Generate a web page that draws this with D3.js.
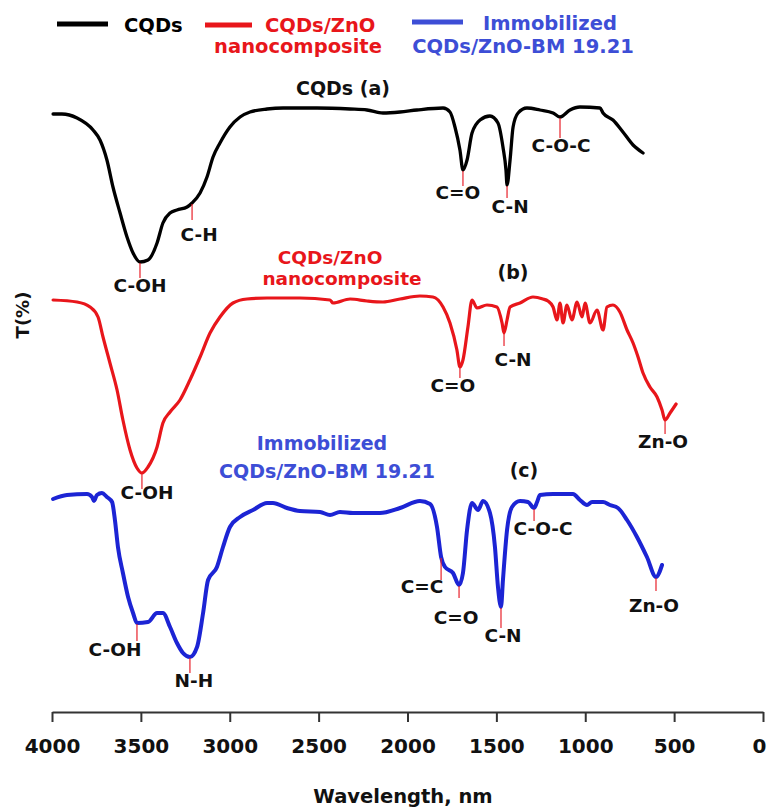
<!DOCTYPE html>
<html>
<head>
<meta charset="utf-8">
<script src="https://cdn.jsdelivr.net/npm/d3@7"></script>
<style>
  html, body { margin: 0; padding: 0; background: #fff; }
  svg { display: block; font-family: "DejaVu Sans", sans-serif; font-weight: bold; }
</style>
</head>
<body>
<svg id="chart" width="768" height="810"></svg>
<script>
// Wavenumber (cm-1) and stacked transmittance (offset, arbitrary units) for each spectrum
const cqdsWn = [3994, 3944, 3859, 3769, 3730, 3691, 3657, 3617, 3578, 3544, 3505, 3460, 3409, 3376, 3336, 3297, 3240, 3212, 3167, 3128, 3094, 3055, 2999, 2942, 2886, 2790, 2700, 2509, 2323, 2228, 2138, 2042, 1947, 1800, 1761, 1733, 1705, 1688, 1665, 1637, 1592, 1536, 1491, 1463, 1446, 1440, 1423, 1406, 1378, 1328, 1255, 1181, 1142, 1086, 1030, 917, 900, 844, 788, 731, 675];
const cqdsT  = [119.6, 119.6, 118.8, 116.4, 114.4, 110.4, 105.0, 99.8, 95.0, 91.8, 90.0, 90.4, 93.8, 97.8, 99.8, 100.4, 101.0, 101.8, 103.8, 107.0, 111.0, 113.8, 117.0, 119.0, 120.0, 120.6, 120.8, 120.8, 120.6, 120.4, 119.8, 120.0, 120.4, 120.8, 120.0, 117.0, 112.4, 108.4, 110.4, 115.8, 118.4, 119.2, 117.8, 113.0, 108.4, 105.4, 110.4, 117.0, 119.8, 120.8, 120.4, 119.8, 119.0, 120.4, 121.0, 120.8, 119.8, 118.4, 116.0, 113.4, 111.8];

const zncWn = [3994, 3859, 3786, 3741, 3713, 3674, 3634, 3601, 3561, 3522, 3494, 3460, 3409, 3376, 3336, 3280, 3224, 3167, 3111, 3055, 2982, 2903, 2790, 2605, 2436, 2419, 2323, 2228, 2138, 2042, 1930, 1857, 1800, 1761, 1722, 1705, 1688, 1660, 1637, 1609, 1553, 1497, 1468, 1457, 1440, 1423, 1367, 1294, 1238, 1210, 1181, 1159, 1142, 1125, 1103, 1075, 1046, 1018, 1001, 973, 934, 900, 878, 844, 805, 765, 731, 703, 675, 636, 596, 568, 551, 523, 489];
const zncT  = [82.4, 82.0, 81.0, 79.0, 75.0, 69.8, 64.4, 58.4, 52.4, 48.8, 47.8, 49.0, 53.0, 57.8, 60.0, 62.4, 66.4, 71.0, 75.8, 79.0, 81.8, 82.6, 82.8, 82.8, 82.4, 81.8, 82.6, 82.2, 82.0, 82.6, 83.2, 83.0, 81.0, 77.8, 72.4, 69.0, 70.4, 77.0, 82.4, 80.8, 81.4, 81.0, 77.8, 75.8, 78.4, 81.0, 81.8, 83.0, 82.6, 82.2, 81.0, 78.4, 81.8, 77.8, 81.4, 78.4, 82.0, 79.0, 81.8, 77.8, 80.4, 76.4, 81.0, 81.4, 80.0, 76.4, 73.8, 71.0, 67.8, 65.0, 63.0, 60.4, 58.4, 59.8, 61.6];

const bmWn = [3994, 3916, 3803, 3775, 3764, 3747, 3719, 3691, 3662, 3646, 3629, 3601, 3572, 3544, 3522, 3460, 3409, 3376, 3336, 3297, 3263, 3224, 3184, 3150, 3122, 3072, 3038, 2999, 2942, 2869, 2790, 2757, 2678, 2605, 2492, 2436, 2380, 2307, 2155, 2042, 1930, 1873, 1834, 1811, 1789, 1744, 1710, 1688, 1665, 1637, 1603, 1575, 1536, 1508, 1491, 1474, 1463, 1440, 1412, 1367, 1322, 1288, 1271, 1255, 1181, 1069, 1030, 990, 962, 900, 861, 816, 765, 709, 653, 602, 568];
const bmT  = [42.6, 43.4, 43.6, 43.0, 42.2, 43.4, 43.8, 43.0, 42.0, 38.4, 33.0, 27.8, 23.0, 19.8, 17.8, 18.0, 19.8, 19.8, 17.0, 13.8, 11.8, 11.0, 13.0, 19.8, 26.4, 29.0, 33.0, 37.0, 39.0, 40.4, 41.8, 41.8, 40.8, 40.2, 40.0, 39.4, 40.0, 39.8, 39.8, 40.8, 42.2, 41.6, 37.0, 31.0, 29.0, 27.8, 25.4, 27.8, 36.4, 41.8, 40.4, 42.2, 39.8, 33.0, 25.0, 21.0, 26.4, 36.4, 41.0, 42.2, 42.0, 40.8, 42.0, 43.4, 43.6, 43.6, 42.4, 41.4, 42.0, 42.0, 41.4, 40.8, 38.4, 35.0, 31.0, 27.0, 29.4];

const xMajor = [4000, 3500, 3000, 2500, 2000, 1500, 1000, 500, 0];
const xMinor = [3750, 3250, 2750, 2250, 1750, 1250, 750, 250];

const seriesColors = ['#000000', '#e8161b', '#1c24d4'];

// band assignments: [wavenumber, label]
const peaksA = [[3505, 'C-OH'], [3212, 'C-H'], [1688, 'C=O'], [1440, 'C-N'], [1142, 'C-O-C']];
const peaksB = [[3494, 'C-OH'], [1705, 'C=O'], [1457, 'C-N'], [551, 'Zn-O']];
const peaksC = [[3522, 'C-OH'], [3224, 'N-H'], [1811, 'C=C'], [1710, 'C=O'], [1474, 'C-N'], [1288, 'C-O-C'], [602, 'Zn-O']];

const svg = d3.select('#chart');

const x = d3.scaleLinear().domain([4000, 0]).range([52, 763]);
const y = d3.scaleLinear().domain([0, 130]).range([712, 62]);

const line = d3.line()
  .x(d => x(d[0]))
  .y(d => y(d[1]))
  .curve(d3.curveMonotoneX);

const series = [
  { wn: cqdsWn, t: cqdsT, color: seriesColors[0], width: 3.3, peaks: peaksA },
  { wn: zncWn,  t: zncT,  color: seriesColors[1], width: 3.2, peaks: peaksB },
  { wn: bmWn,   t: bmT,   color: seriesColors[2], width: 4,   peaks: peaksC },
];

// label placement per peak: [marker length, label dx, gap under marker]
const peakLayout = [
  [[15, 0, 7], [16, 7, 14], [15, -5, 6], [12, 3, 8], [20, 1, 7]],
  [[15, 5, 3], [10, -7, 7], [12, 9, 13], [13, -2, 7]],
  [[17, -22, 8], [15, 4, 7], [22, -19, 6], [12, -3, 19], [20, 2, 7], [12, 9, 7], [13, -2, 14]],
];

function tAt(s, wn) {
  const i = s.wn.indexOf(wn);
  if (i >= 0) return s.t[i];
  const j = s.wn.findIndex(v => v < wn);
  const k = j - 1;
  const f = (s.wn[k] - wn) / (s.wn[k] - s.wn[j]);
  return s.t[k] + f * (s.t[j] - s.t[k]);
}

// ── Spectra ─────────────────────────────────────────────────────────────
series.forEach((s, si) => {
  svg.append('path')
    .datum(d3.zip(s.wn, s.t))
    .attr('fill', 'none')
    .attr('stroke', s.color)
    .attr('stroke-width', s.width)
    .attr('stroke-linejoin', 'round')
    .attr('stroke-linecap', 'round')
    .attr('d', line);

  s.peaks.forEach(([wn, label], pi) => {
    const [len, dx, gap] = peakLayout[si][pi];
    const px = x(wn);
    const top = y(tAt(s, wn)) + 1;
    svg.append('line')
      .attr('x1', px).attr('x2', px)
      .attr('y1', top).attr('y2', top + len)
      .attr('stroke', '#e8202a').attr('stroke-width', 1.2);
    svg.append('text')
      .attr('x', px + dx).attr('y', top + len + gap)
      .attr('dy', '0.36em')
      .attr('text-anchor', 'middle')
      .attr('font-size', '18.5px')
      .attr('fill', '#111')
      .text(label);
  });
});

// ── Panel captions ─────────────────────────────────────────────────────
function caption(txt, cx, cy, color, size) {
  svg.append('text')
    .attr('x', cx).attr('y', cy).attr('dy', '0.36em')
    .attr('text-anchor', 'middle')
    .attr('font-size', size || '19px')
    .attr('fill', color)
    .text(txt);
}
caption('CQDs (a)', 343, 88, '#111');
caption('CQDs/ZnO', 330, 257, seriesColors[1], '18.5px');
caption('nanocomposite', 342, 278, seriesColors[1], '18.5px');
caption('(b)', 513, 272, '#111');
caption('Immobilized', 322, 443, '#3d4ed6');
caption('CQDs/ZnO-BM 19.21', 327, 471, '#3d4ed6');
caption('(c)', 524, 470, '#111');

// ── Legend ──────────────────────────────────────────────────────────────
const lg = svg.append('g').attr('font-size', '19.5px');
lg.append('line').attr('x1', 57).attr('x2', 108).attr('y1', 24).attr('y2', 24)
  .attr('stroke', seriesColors[0]).attr('stroke-width', 5);
lg.append('text').attr('x', 124).attr('y', 25).attr('dy', '0.36em').attr('fill', '#000').text('CQDs');

lg.append('line').attr('x1', 205).attr('x2', 252).attr('y1', 25).attr('y2', 25)
  .attr('stroke', seriesColors[1]).attr('stroke-width', 5);
lg.append('text').attr('x', 265).attr('y', 25).attr('dy', '0.36em').attr('fill', seriesColors[1]).text('CQDs/ZnO');
lg.append('text').attr('x', 298).attr('y', 46).attr('dy', '0.36em').attr('text-anchor', 'middle')
  .attr('fill', seriesColors[1]).text('nanocomposite');

lg.append('line').attr('x1', 412).attr('x2', 463).attr('y1', 22).attr('y2', 22)
  .attr('stroke', '#3d4ed6').attr('stroke-width', 5);
lg.append('text').attr('x', 483).attr('y', 23).attr('dy', '0.36em').attr('fill', '#3d4ed6').text('Immobilized');
lg.append('text').attr('x', 523).attr('y', 46).attr('dy', '0.36em').attr('text-anchor', 'middle')
  .attr('fill', '#3d4ed6').text('CQDs/ZnO-BM 19.21');

// ── X axis ──────────────────────────────────────────────────────────────
const axisY = 712;
const gx = svg.append('g').attr('transform', `translate(0,${axisY})`);
gx.call(d3.axisBottom(x).tickValues(xMinor).tickSize(5).tickFormat(''));
gx.call(d3.axisBottom(x).tickValues(xMajor).tickSize(10).tickSizeOuter(0).tickFormat(d3.format('d')));
gx.selectAll('.domain').attr('stroke', '#333').attr('stroke-width', 2.2);
gx.selectAll('.tick line').attr('stroke', '#333').attr('stroke-width', 2);
gx.selectAll('.tick text')
  .attr('y', 34).attr('dy', '0.36em')
  .attr('x', d => d === 0 ? -4 : 0)
  .attr('fill', '#111')
  .attr('font-family', '"DejaVu Sans", sans-serif')
  .attr('font-weight', 'bold')
  .attr('font-size', '20px');

svg.append('text')
  .attr('x', 403).attr('y', 796).attr('dy', '0.36em')
  .attr('text-anchor', 'middle').attr('font-size', '19.5px').attr('fill', '#111')
  .text('Wavelength, nm');

svg.append('text')
  .attr('transform', 'translate(23,315) rotate(-90)')
  .attr('dy', '0.36em')
  .attr('text-anchor', 'middle').attr('font-size', '18px').attr('fill', '#111')
  .text('T(%)');
</script>
</body>
</html>
